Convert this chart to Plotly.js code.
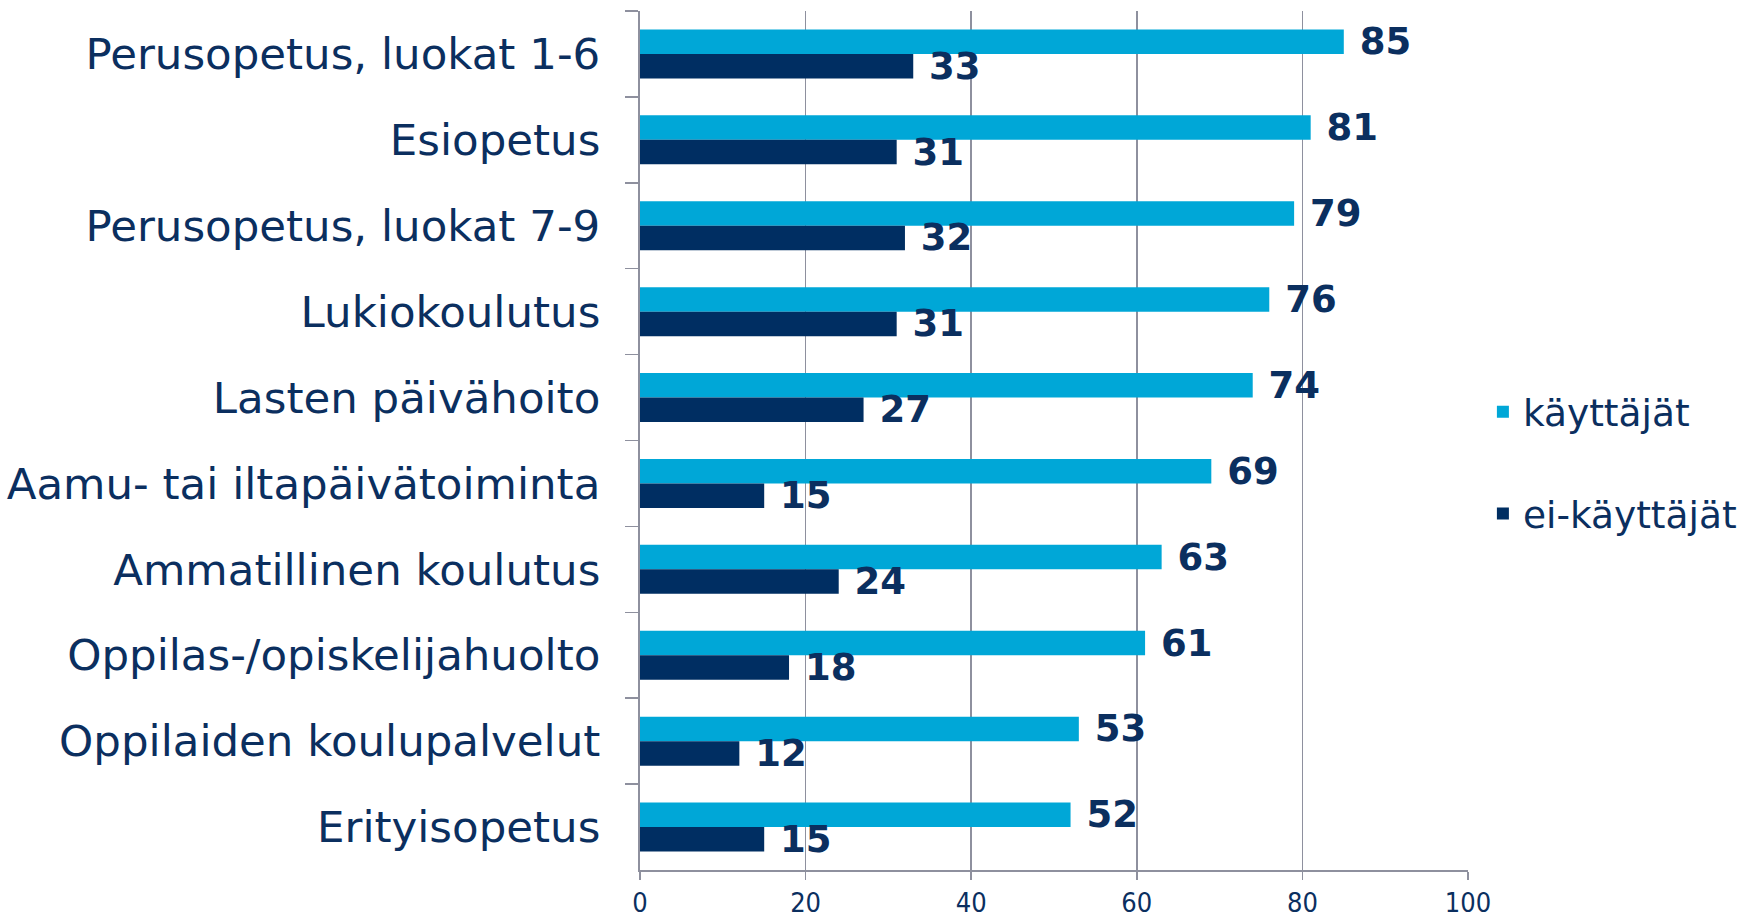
<!DOCTYPE html>
<html>
<head>
<meta charset="utf-8">
<script src="https://cdn.plot.ly/plotly-3.0.1.min.js"></script>
<style>html,body{margin:0;padding:0;background:#fff;}#chart{width:1744px;height:918px;}</style>
</head>
<body>
<div id="chart"></div>
<script>
const categories = [
  "Perusopetus, luokat 1-6",
  "Esiopetus",
  "Perusopetus, luokat 7-9",
  "Lukiokoulutus",
  "Lasten päivähoito",
  "Aamu- tai iltapäivätoiminta",
  "Ammatillinen koulutus",
  "Oppilas-/opiskelijahuolto",
  "Oppilaiden koulupalvelut",
  "Erityisopetus"
];
const kayttajat = [85, 81, 79, 76, 74, 69, 63, 61, 53, 52];
const eiKayttajat = [33, 31, 32, 31, 27, 15, 24, 18, 12, 15];
const seriesNames = ["käyttäjät", "ei-käyttäjät"];
const xTicks = [0, 20, 40, 60, 80, 100];

const navy = "#0b2f5f";
const gridColor = "#8e909e";
const labelFont = {family: "DejaVu Sans, Verdana, sans-serif", size: 37, color: navy, weight: "bold"};

const traces = [
  {
    type: "bar", orientation: "h", name: seriesNames[0], legendgroup: "a",
    y: categories, x: kayttajat,
    marker: {color: "#00a7d7"},
    texttemplate: "\u00a0%{x}", textposition: "outside",
    textfont: labelFont, constraintext: "none", cliponaxis: false,
    hoverinfo: "x"
  },
  {
    type: "bar", orientation: "h", name: seriesNames[1], legendgroup: "b",
    y: categories, x: eiKayttajat,
    marker: {color: "#002e62"},
    texttemplate: "\u00a0%{x}", textposition: "outside",
    textfont: labelFont, constraintext: "none", cliponaxis: false,
    hoverinfo: "x"
  }
];

const layout = {
  width: 1744, height: 918,
  margin: {l: 640, r: 276, t: 11, b: 48, pad: 0, autoexpand: false},
  paper_bgcolor: "#fff", plot_bgcolor: "#fff",
  barmode: "group", bargap: 0.43, bargroupgap: 0,
  font: {family: "DejaVu Sans, Verdana, sans-serif", color: navy},
  xaxis: {
    range: [0, 100], tickvals: xTicks, ticktext: xTicks.map(String),
    showgrid: true, gridcolor: gridColor, gridwidth: 1.5,
    zeroline: false, showline: true, linecolor: gridColor, linewidth: 2,
    ticks: "outside", ticklen: 8, tickcolor: gridColor, tickwidth: 1.5,
    ticklabelstandoff: 0, automargin: false,
    tickfont: {family: "DejaVu Sans Condensed, DejaVu Sans, sans-serif", size: 27, color: navy},
    mirror: false, fixedrange: true
  },
  yaxis: {
    type: "category", autorange: "reversed", automargin: false,
    showgrid: false, zeroline: false, showline: true, linecolor: gridColor, linewidth: 2,
    ticks: "outside", tickson: "boundaries", ticklen: 13, tickcolor: gridColor, tickwidth: 1.5,
    ticklabelstandoff: 29,
    tickfont: {family: "DejaVu Sans, Verdana, sans-serif", size: 43.5, color: navy},
    fixedrange: true
  },
  legend: {
    x: 1.018, xanchor: "left", y: 0.474, yanchor: "middle",
    traceorder: "grouped", tracegroupgap: 50,
    font: {family: "DejaVu Sans, Verdana, sans-serif", size: 37.5, color: navy},
    bgcolor: "rgba(0,0,0,0)"
  },
  showlegend: true
};

Plotly.newPlot("chart", traces, layout, {displayModeBar: false, staticPlot: true});
</script>
</body>
</html>
